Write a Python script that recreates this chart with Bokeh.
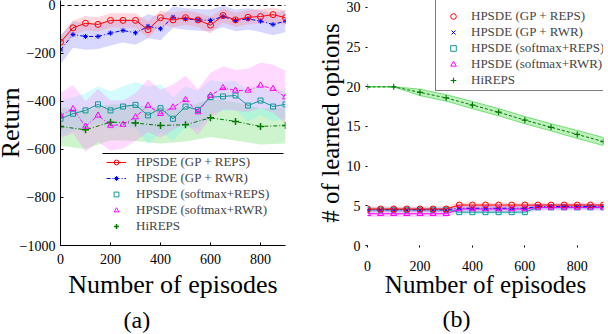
from bokeh.plotting import figure
from bokeh.layouts import row
from bokeh.models import Legend, LegendItem, Span, FixedTicker, Arrow, Range1d, Title
from bokeh.embed import file_html
from bokeh.resources import INLINE

FONT = '"Liberation Serif"'

# ---------------- (a) data ----------------
episodes_a = [0, 50, 100, 150, 200, 250, 300, 350, 400, 450, 500, 550, 600, 650, 700, 750, 800, 850, 900]
episodes_a_hi = [0, 100, 200, 300, 400, 500, 600, 700, 800, 900]

ret_gp_reps = [-153, -93, -74, -79, -62, -62, -62, -101, -51, -60, -51, -60, -82, -42, -60, -49, -46, -38, -51]
std_gp_reps = [25, 30, 30, 30, 30, 30, 30, 35, 30, 30, 30, 30, 35, 30, 30, 30, 30, 30, 30]
ret_gp_rwr = [-185, -121, -129, -129, -115, -104, -114, -87, -97, -49, -56, -60, -62, -46, -62, -56, -65, -79, -65]
std_gp_rwr = [60, 55, 55, 52, 52, 50, 50, 50, 48, 45, 45, 45, 45, 45, 45, 45, 45, 45, 45]
ret_sm_reps = [-472, -451, -437, -412, -437, -421, -414, -458, -428, -472, -421, -435, -382, -379, -375, -417, -396, -421, -412]
std_sm_reps = [75, 70, 70, 75, 80, 85, 95, 120, 100, 90, 85, 80, 70, 60, 60, 65, 60, 60, 60]
ret_sm_rwr = [-458, -431, -504, -458, -500, -496, -465, -417, -451, -424, -393, -444, -375, -343, -354, -354, -333, -347, -382]
std_sm_rwr = [95, 100, 105, 110, 105, 100, 100, 110, 100, 95, 100, 95, 95, 90, 85, 90, 95, 100, 110]
ret_hireps = [-504, -518, -486, -490, -500, -497, -468, -483, -504, -500]
std_hireps = [80, 80, 75, 75, 75, 70, 80, 80, 75, 75]

# ---------------- (b) data ----------------
episodes_b = [0, 50, 100, 150, 200, 250, 300, 350, 400, 450, 500, 550, 600, 650, 700, 750, 800, 850, 900]
episodes_b_hi = [0, 100, 200, 300, 400, 500, 600, 700, 800, 900]
opt_gp_reps = [4.6, 4.6, 4.6, 4.6, 4.6, 4.6, 4.6, 5.1, 5.1, 5.1, 5.1, 5.1, 5.1, 5.1, 5.1, 5.1, 5.1, 5.1, 5.1]
ostd_gp_reps = [0.3] * 19
opt_gp_rwr = [4.5, 4.5, 4.5, 4.5, 4.5, 4.5, 4.5, 4.7, 4.7, 4.7, 4.7, 4.7, 4.7, 4.9, 4.9, 4.9, 4.9, 4.9, 4.9]
ostd_gp_rwr = [0.3] * 19
opt_sm_reps = [4.5, 4.5, 4.5, 4.5, 4.5, 4.5, 4.5, 4.2, 4.2, 4.2, 4.2, 4.2, 4.2, 4.8, 4.8, 4.8, 4.8, 4.8, 4.8]
ostd_sm_reps = [0.3] * 19
opt_sm_rwr = [4.0, 4.0, 4.0, 4.0, 4.0, 4.0, 4.0, 4.6, 4.6, 4.6, 4.6, 4.6, 4.6, 4.8, 4.8, 4.8, 4.8, 4.8, 4.8]
ostd_sm_rwr = [0.4] * 19
opt_hireps = [20.0, 20.0, 19.3, 18.6, 17.7, 16.8, 15.8, 14.9, 14.0, 13.1]
ostd_hireps = [0.0, 0.0, 0.4, 0.4, 0.45, 0.45, 0.45, 0.45, 0.5, 0.5]

labels = ["HPSDE (GP + REPS)", "HPSDE (GP + RWR)", "HPSDE (softmax+REPS)",
          "HPSDE (softmax+RWR)", "HiREPS"]
x_ticks = [0, 200, 400, 600, 800]
y_ticks_a = [0, -200, -400, -600, -800, -1000]
y_ticks_b = [0, 5, 10, 15, 20, 25, 30]

RED, BLUE, TEAL, MAG, GREEN = "#ff0000", "#0000ff", "#109898", "#ff00ff", "#007a00"
RED_B, BLUE_B, TEAL_B, MAG_B, GREEN_B = "#ff7f8f", "#7f7fff", "#6ff5f5", "#ff80ff", "#70e070"

H = 353


def band(p, x, m, s, color, alpha):
    lo = [a - b for a, b in zip(m, s)]
    hi = [a + b for a, b in zip(m, s)]
    p.varea(x=x, y1=lo, y2=hi, fill_color=color, fill_alpha=alpha)
    return lo, hi


def style(p, label_size):
    p.xgrid.visible = False
    p.ygrid.visible = False
    p.outline_line_color = None
    for ax in p.axis:
        ax.major_label_text_font = FONT
        ax.major_label_text_font_size = "14px"
        ax.major_label_text_color = "black"
        ax.axis_label_text_font = FONT
        ax.axis_label_text_font_size = label_size
        ax.axis_label_text_font_style = "normal"
        ax.axis_label_text_color = "black"
        ax.minor_tick_line_color = None


# ---------------- panel (a) ----------------
p1 = figure(width=309, height=H, output_backend="svg", toolbar_location=None,
            x_range=Range1d(0, 900), y_range=Range1d(-1000, 20.8),
            min_border_left=69, min_border_right=15, min_border_top=8, min_border_bottom=100)

band(p1, episodes_a_hi, ret_hireps, std_hireps, GREEN_B, 0.35)
band(p1, episodes_a, ret_sm_reps, std_sm_reps, TEAL_B, 0.3)
band(p1, episodes_a, ret_sm_rwr, std_sm_rwr, MAG_B, 0.3)
band(p1, episodes_a, ret_gp_rwr, std_gp_rwr, BLUE_B, 0.3)
band(p1, episodes_a, ret_gp_reps, std_gp_reps, RED_B, 0.3)

p1.add_layout(Span(location=0, dimension="width", line_color="black", line_dash="4 3", line_width=1))

l_hi = p1.line(episodes_a_hi, ret_hireps, line_color=GREEN, line_width=1, line_dash="4 2 1 2")
s_hi = p1.scatter(episodes_a_hi, ret_hireps, marker="cross", size=7, line_color=GREEN, line_width=1.5)
l_sr = p1.line(episodes_a, ret_sm_reps, line_color=TEAL, line_width=1)
s_sr = p1.scatter(episodes_a, ret_sm_reps, marker="square", size=5, line_color=TEAL, fill_color=None, line_width=1)
l_sw = p1.line(episodes_a, ret_sm_rwr, line_color=MAG, line_width=1, line_dash="4 2 1 2")
s_sw = p1.scatter(episodes_a, ret_sm_rwr, marker="triangle", size=6, line_color=MAG, fill_color=None, line_width=1)
l_gw = p1.line(episodes_a, ret_gp_rwr, line_color=BLUE, line_width=1, line_dash="4 2 1 2")
s_gw = p1.scatter(episodes_a, ret_gp_rwr, marker="asterisk", size=5, line_color=BLUE, line_width=1)
l_gr = p1.line(episodes_a, ret_gp_reps, line_color=RED, line_width=1)
s_gr = p1.scatter(episodes_a, ret_gp_reps, marker="circle", size=6, line_color=RED, fill_color=None, line_width=1)

p1.xaxis.axis_label = "Number of episodes"
p1.yaxis.axis_label = "Return"
style(p1, "26px")
p1.xaxis.ticker = FixedTicker(ticks=x_ticks)
p1.yaxis.ticker = FixedTicker(ticks=y_ticks_a)
for ax in p1.axis:
    ax.axis_line_color = "black"
    ax.major_tick_in = 3
    ax.major_tick_out = 0
    ax.major_tick_line_color = "black"
p1.xaxis.major_label_standoff = 8
p1.xaxis.axis_label_standoff = 3
p1.yaxis.major_label_standoff = 5
p1.yaxis.axis_label_standoff = -8

leg1 = Legend(items=[LegendItem(label=labels[0], renderers=[l_gr, s_gr]),
                     LegendItem(label=labels[1], renderers=[l_gw, s_gw]),
                     LegendItem(label=labels[2], renderers=[s_sr]),
                     LegendItem(label=labels[3], renderers=[s_sw]),
                     LegendItem(label=labels[4], renderers=[s_hi])],
              location=(42, 7), margin=0, padding=4, spacing=0,
              label_height=12, glyph_height=12, glyph_width=20, label_standoff=10,
              label_text_font=FONT, label_text_font_size="13px",
              border_line_alpha=0, background_fill_alpha=0)
p1.add_layout(leg1, "center")
p1.add_layout(Arrow(end=None, x_start=42, y_start=92, x_end=223, y_end=92,
                    start_units="screen", end_units="screen",
                    line_color="black", line_width=1))
p1.add_layout(Title(text="(a)", align="left", offset=63, standoff=6,
                    text_font=FONT, text_font_size="24px", text_font_style="normal",
                    text_color="black"), "below")

# ---------------- panel (b) ----------------
p2 = figure(width=308, height=H, output_backend="svg", toolbar_location=None,
            x_range=Range1d(0, 900), y_range=Range1d(0, 30.88),
            min_border_left=67, min_border_right=5, min_border_top=8, min_border_bottom=100)

lo, hi = band(p2, episodes_b_hi, opt_hireps, ostd_hireps, GREEN_B, 0.45)
p2.line(episodes_b_hi, lo, line_color=GREEN_B, line_width=1)
p2.line(episodes_b_hi, hi, line_color=GREEN_B, line_width=1)
band(p2, episodes_b, opt_sm_reps, ostd_sm_reps, TEAL_B, 0.35)
band(p2, episodes_b, opt_sm_rwr, ostd_sm_rwr, MAG_B, 0.35)
band(p2, episodes_b, opt_gp_rwr, ostd_gp_rwr, BLUE_B, 0.3)
band(p2, episodes_b, opt_gp_reps, ostd_gp_reps, RED_B, 0.3)

p2.line(episodes_b_hi, opt_hireps, line_color=GREEN, line_width=1, line_dash="3 2")
t_hi = p2.scatter(episodes_b_hi, opt_hireps, marker="cross", size=6, line_color=GREEN, line_width=1.2)
p2.line(episodes_b, opt_sm_reps, line_color=TEAL, line_width=1)
t_sr = p2.scatter(episodes_b, opt_sm_reps, marker="square", size=5, line_color=TEAL, fill_color=None, line_width=1)
p2.line(episodes_b, opt_sm_rwr, line_color=MAG, line_width=1)
t_sw = p2.scatter(episodes_b, opt_sm_rwr, marker="triangle", size=6, line_color=MAG, fill_color=None, line_width=1)
p2.line(episodes_b, opt_gp_rwr, line_color=BLUE, line_width=1, line_dash="4 2 1 2")
t_gw = p2.scatter(episodes_b, opt_gp_rwr, marker="x", size=5, line_color=BLUE, line_width=1)
p2.line(episodes_b, opt_gp_reps, line_color=RED, line_width=1)
t_gr = p2.scatter(episodes_b, opt_gp_reps, marker="circle", size=6, line_color=RED, fill_color=None, line_width=1)

p2.xaxis.axis_label = "Number of episodes"
p2.yaxis.axis_label = "# of learned options"
style(p2, "25px")
p2.xaxis.ticker = FixedTicker(ticks=x_ticks)
p2.yaxis.ticker = FixedTicker(ticks=y_ticks_b)
for ax in p2.axis:
    ax.axis_line_color = None
    ax.major_tick_in = 0
    ax.major_tick_out = 2
    ax.major_tick_line_color = "black"
p2.xaxis.major_label_standoff = 13
p2.xaxis.axis_label_standoff = -3
p2.yaxis.major_label_standoff = 5
p2.yaxis.axis_label_standoff = 0

leg2 = Legend(items=[LegendItem(label=labels[0], renderers=[t_gr]),
                     LegendItem(label=labels[1], renderers=[t_gw]),
                     LegendItem(label=labels[2], renderers=[t_sr]),
                     LegendItem(label=labels[3], renderers=[t_sw]),
                     LegendItem(label=labels[4], renderers=[t_hi])],
              location=(68, 154), margin=0, padding=2, spacing=0,
              label_height=14, glyph_height=14, glyph_width=30, label_standoff=3,
              label_text_font=FONT, label_text_font_size="13px",
              title=" ", title_text_font_size="14px", title_standoff=6,
              border_line_color="black", border_line_width=1,
              background_fill_color="white", background_fill_alpha=1)
p2.add_layout(leg2, "center")
p2.add_layout(Title(text="(b)", align="left", offset=75, standoff=6,
                    text_font=FONT, text_font_size="24px", text_font_style="normal",
                    text_color="black"), "below")

layout = row(p1, p2, margin=(-8, 0, 0, -9))
open("out.html", "w").write(file_html(layout, INLINE))
